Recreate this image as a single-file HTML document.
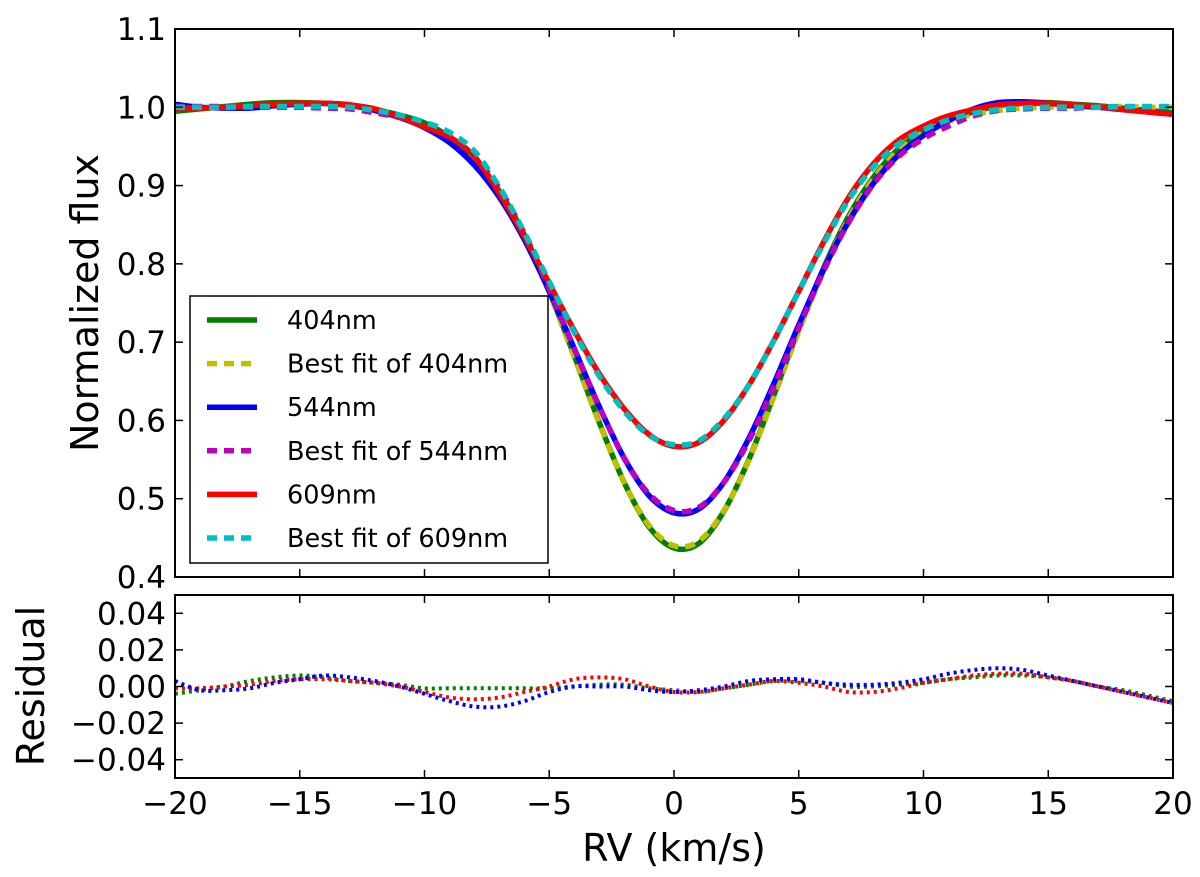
<!DOCTYPE html>
<html><head><meta charset="utf-8"><style>
body{margin:0;background:#fff;}
svg text{font-family:"DejaVu Sans","Liberation Sans",sans-serif;fill:#000;}
</style></head><body>
<svg id="chart" width="1200" height="872" viewBox="0 0 1200 872" xmlns="http://www.w3.org/2000/svg">
<g id="main"></g>
</svg>
<script>
const rv = [-20,-19,-18,-17,-16,-15,-14,-13,-12,-11,-10,-9,-8,-7,-6,-5,-4,-3,-2,-1,0,1,2,3,4,5,6,7,8,9,10,11,12,13,14,15,16,17,18,19,20];
const flux404 = [0.995,0.998,1.001,1.004,1.006,1.006,1.005,1.002,0.997,0.990,0.980,0.962,0.934,0.893,0.837,0.765,0.683,0.598,0.521,0.464,0.437,0.443,0.484,0.550,0.632,0.717,0.795,0.861,0.911,0.947,0.970,0.984,0.994,1.002,1.006,1.006,1.004,1.002,0.999,0.996,0.993];
const fit404 = [1.000,1.000,1.001,1.001,1.002,1.002,1.001,1.000,0.996,0.990,0.980,0.962,0.933,0.891,0.834,0.763,0.681,0.597,0.521,0.466,0.440,0.446,0.485,0.549,0.630,0.714,0.792,0.858,0.909,0.945,0.968,0.982,0.991,0.996,0.999,1.000,1.001,1.001,1.001,1.000,1.000];
const flux544 = [1.004,1.000,0.999,0.999,1.002,1.004,1.005,1.003,0.996,0.987,0.974,0.955,0.926,0.885,0.831,0.765,0.692,0.618,0.552,0.504,0.482,0.487,0.521,0.577,0.647,0.722,0.793,0.854,0.903,0.939,0.964,0.983,0.998,1.006,1.007,1.005,1.002,1.000,0.997,0.994,0.991];
const fit544 = [1.001,1.001,1.001,1.000,1.000,1.000,0.999,0.998,0.993,0.987,0.978,0.963,0.937,0.896,0.839,0.768,0.692,0.618,0.552,0.506,0.485,0.489,0.521,0.574,0.643,0.718,0.791,0.853,0.902,0.937,0.960,0.976,0.989,0.996,0.998,0.999,0.999,1.000,1.000,1.000,1.000];
const flux609 = [0.999,0.999,1.000,1.002,1.004,1.005,1.005,1.003,0.998,0.988,0.975,0.962,0.937,0.890,0.835,0.775,0.715,0.660,0.615,0.582,0.567,0.572,0.600,0.645,0.702,0.765,0.828,0.885,0.928,0.958,0.976,0.989,0.997,1.003,1.005,1.005,1.003,1.001,0.997,0.994,0.991];
const fit609 = [1.000,1.000,1.000,1.001,1.001,1.001,1.001,1.000,0.996,0.990,0.981,0.968,0.944,0.898,0.840,0.777,0.713,0.657,0.612,0.581,0.569,0.574,0.602,0.645,0.702,0.765,0.826,0.882,0.924,0.953,0.971,0.984,0.992,0.997,0.999,1.000,1.000,1.000,1.001,1.001,1.001];
const res404 = [-0.004,-0.002,0,0.003,0.005,0.006,0.005,0.003,0.002,0.001,-0.001,-0.001,-0.001,-0.001,-0.001,-0.001,0,0.001,0.001,-0.001,-0.002,-0.003,-0.001,0.001,0.003,0.003,0.002,0,0,0.001,0.002,0.004,0.005,0.006,0.006,0.005,0.003,0,-0.002,-0.005,-0.008];
const res544 = [0.003,-0.002,-0.002,-0.001,0.002,0.004,0.006,0.005,0.003,0,-0.004,-0.008,-0.011,-0.011,-0.008,-0.003,0,0,0,-0.002,-0.003,-0.002,0,0.003,0.004,0.004,0.002,0.001,0.001,0.002,0.004,0.007,0.009,0.010,0.009,0.006,0.003,0,-0.003,-0.006,-0.009];
const res609 = [-0.001,-0.001,0,0.001,0.003,0.004,0.004,0.003,0.002,0,-0.003,-0.006,-0.007,-0.006,-0.003,0,0.004,0.005,0.004,0,-0.003,-0.003,-0.001,0.001,0.003,0.002,0,-0.003,-0.003,-0.001,0.002,0.004,0.006,0.007,0.007,0.005,0.003,0,-0.003,-0.006,-0.009];
const xTicks = [-20,-15,-10,-5,0,5,10,15,20];
const yTicksMain = [0.4,0.5,0.6,0.7,0.8,0.9,1.0,1.1];
const yTicksRes = [-0.04,-0.02,0.00,0.02,0.04];
const legendLabels = ["404nm","Best fit of 404nm","544nm","Best fit of 544nm","609nm","Best fit of 609nm"];

const NS='http://www.w3.org/2000/svg';
const root=document.getElementById('main');
const L=175,R=1173,MT=29,MB=577,RT=595,RB=778;
const X=v=>L+(v+20)/40*(R-L);
const YM=v=>MT+(1.1-v)/0.7*(MB-MT);
const YR=v=>RT+(0.05-v)/0.1*(RB-RT);
function mk(tag,attrs,parent){const e=document.createElementNS(NS,tag);for(const k in attrs)e.setAttribute(k,attrs[k]);(parent||root).appendChild(e);return e;}
function smooth(xs,ys){let p=[];for(let i=0;i<xs.length;i++)p.push([xs[i],ys[i]]);
 let d='M'+p[0][0].toFixed(1)+','+p[0][1].toFixed(1);
 for(let i=0;i<p.length-1;i++){const p0=p[Math.max(0,i-1)],p1=p[i],p2=p[i+1],p3=p[Math.min(p.length-1,i+2)];
  const c1=[p1[0]+(p2[0]-p0[0])/6,p1[1]+(p2[1]-p0[1])/6],c2=[p2[0]-(p3[0]-p1[0])/6,p2[1]-(p3[1]-p1[1])/6];
  d+=`C${c1[0].toFixed(1)},${c1[1].toFixed(1)} ${c2[0].toFixed(1)},${c2[1].toFixed(1)} ${p2[0].toFixed(1)},${p2[1].toFixed(1)}`;}
 return d;}
const defs=mk('defs',{});
const c1=mk('clipPath',{id:'cm'},defs);mk('rect',{x:L,y:MT,width:R-L,height:MB-MT},c1);
const c2=mk('clipPath',{id:'cr'},defs);mk('rect',{x:L,y:RT,width:R-L,height:RB-RT},c2);

const gm=mk('g',{'clip-path':'url(#cm)'});


const series=[[flux404,'#008000',null,'line-404nm'],[fit404,'#bfbf00','10,7','fit-404nm'],[flux544,'#0000ff',null,'line-544nm'],[fit544,'#bf00bf','10,7','fit-544nm'],[flux609,'#ff0000',null,'line-609nm'],[fit609,'#00bfbf','10,7','fit-609nm']];
series.forEach(s=>{const e=mk('path',{d:smooth(rv.map(X),s[0].map(YM)),fill:'none',stroke:s[1],'stroke-width':5.5},gm);
 if(s[2])e.setAttribute('stroke-dasharray',s[2]);
 
 });
const gr=mk('g',{'clip-path':'url(#cr)'});


[[res404,'#008000','residual-404nm'],[res609,'#ff0000','residual-609nm'],[res544,'#0000ff','residual-544nm']].forEach(s=>{
 const e=mk('path',{d:smooth(rv.map(X),s[0].map(YR)),fill:'none',stroke:s[1],'stroke-width':4,'stroke-dasharray':'3,4'},gr);
 
 });

function frame(t,b,yt,yf,name,fmt){
 const f=mk('rect',{x:L,y:t,width:R-L,height:b-t,fill:'none',stroke:'#000','stroke-width':2});
 
 
 xTicks.forEach(v=>{mk('line',{x1:X(v),x2:X(v),y1:b,y2:b-8,stroke:'#000','stroke-width':1.5});mk('line',{x1:X(v),x2:X(v),y1:t,y2:t+8,stroke:'#000','stroke-width':1.5});});
 yt.forEach(v=>{const y=yf(v);mk('line',{x1:L,x2:L+8,y1:y,y2:y,stroke:'#000','stroke-width':1.5});mk('line',{x1:R,x2:R-8,y1:y,y2:y,stroke:'#000','stroke-width':1.5});
  const tx=mk('text',{x:L-9,y:y+11,'text-anchor':'end','font-size':31});tx.textContent=fmt(v);
  
  });
}
frame(MT,MB,yTicksMain,YM,'main',v=>v.toFixed(1));
frame(RT,RB,yTicksRes,YR,'residual',v=>(v<0?'\u2212':'')+Math.abs(v).toFixed(2));
xTicks.forEach(v=>{const t=mk('text',{x:X(v),y:814,'text-anchor':'middle','font-size':31});t.textContent=(v<0?'\u2212':'')+Math.abs(v);
 
 });
let t=mk('text',{x:674,y:861,'text-anchor':'middle','font-size':38});t.textContent='RV (km/s)';


t=mk('text',{x:0,y:0,'text-anchor':'middle','font-size':38,transform:'translate(98,303) rotate(-90)'});t.textContent='Normalized flux';


t=mk('text',{x:0,y:0,'text-anchor':'middle','font-size':38,transform:'translate(44,686) rotate(-90)'});t.textContent='Residual';



const lg=mk('g',{});


mk('rect',{x:190,y:296,width:358,height:267,fill:'#fff',stroke:'#000','stroke-width':1.5},lg);
legendLabels.forEach((lab,i)=>{const y=320+i*43.6;const s=series[i];
 const ln=mk('line',{x1:207,x2:257,y1:y,y2:y,stroke:s[1],'stroke-width':5.5},lg);
 if(s[2])ln.setAttribute('stroke-dasharray',s[2]);
 const tx=mk('text',{x:287,y:y+9,'font-size':25.5},lg);tx.textContent=lab;
 
 });
</script>
</body></html>
